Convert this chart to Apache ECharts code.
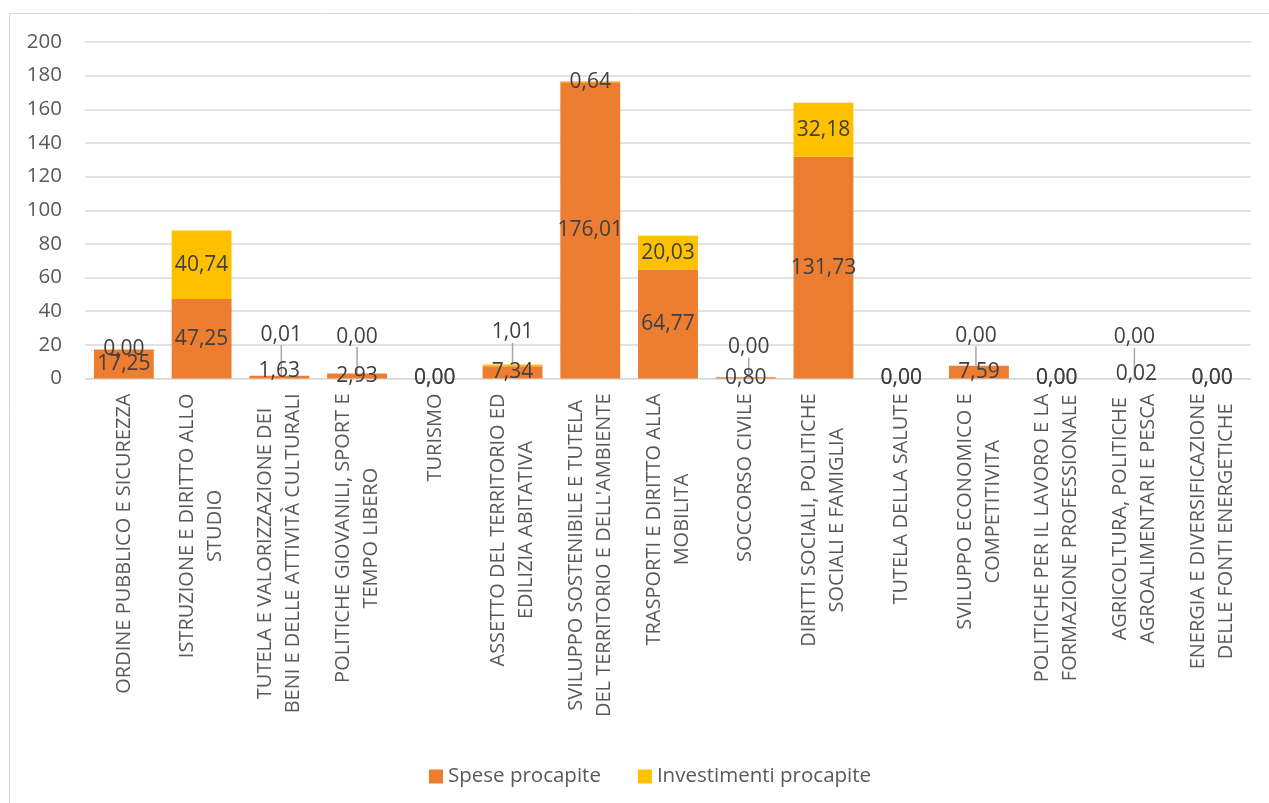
<!DOCTYPE html>
<html>
<head>
<meta charset="utf-8">
<script src="https://cdn.jsdelivr.net/npm/echarts@6/dist/echarts.min.js"></script>
<style>
  html, body { margin: 0; padding: 0; background: #ffffff; }
  #chart { width: 1269px; height: 803px; }
</style>
</head>
<body>
<div id="chart"></div>
<script>
// Missioni di bilancio (etichette già spezzate su due righe dove serve)
const categories = [
  'ORDINE PUBBLICO E SICUREZZA',
  'ISTRUZIONE E DIRITTO ALLO\nSTUDIO',
  'TUTELA E VALORIZZAZIONE DEI\nBENI E DELLE ATTIVITÀ CULTURALI',
  'POLITICHE GIOVANILI, SPORT E\nTEMPO LIBERO',
  'TURISMO',
  'ASSETTO DEL TERRITORIO ED\nEDILIZIA ABITATIVA',
  'SVILUPPO SOSTENIBILE E TUTELA\nDEL TERRITORIO E DELL\'AMBIENTE',
  'TRASPORTI E DIRITTO ALLA\nMOBILITA',
  'SOCCORSO CIVILE',
  'DIRITTI SOCIALI, POLITICHE\nSOCIALI E FAMIGLIA',
  'TUTELA DELLA SALUTE',
  'SVILUPPO ECONOMICO E\nCOMPETITIVITA',
  'POLITICHE PER IL LAVORO E LA\nFORMAZIONE PROFESSIONALE',
  'AGRICOLTURA, POLITICHE\nAGROALIMENTARI E PESCA',
  'ENERGIA E DIVERSIFICAZIONE\nDELLE FONTI ENERGETICHE'
];

// Valori pro capite (euro)
const spese = [17.25, 47.25, 1.63, 2.93, 0.00, 7.34, 176.01, 64.77, 0.80, 131.73, 0.00, 7.59, 0.00, 0.02, 0.00];
const investimenti = [0.00, 40.74, 0.01, 0.00, 0.00, 1.01, 0.64, 20.03, 0.00, 32.18, 0.00, 0.00, 0.00, 0.00, 0.00];

const yTicks = { min: 0, max: 200, step: 20 };

const seriesNames = ['Spese procapite', 'Investimenti procapite'];
const colors = ['#ED7D31', '#FFC000'];

const FONT = '"Open Sans", "DejaVu Sans", sans-serif';
const TEXT_GREY = '#595959';
const LABEL_DARK = '#404040';

// Spostamento (dx, dy) delle etichette che sui segmenti piccoli si sovrappongono
const spesaLabelShift = { 2: [0, -6], 13: [2, -4] };
const investLabelShift = { 2: [2, -41], 3: [0, -37], 5: [0, -33], 8: [3, -30], 11: [-3, -30], 13: [0, -41] };

const fmt = v => Number(v).toFixed(2).replace('.', ',');

function shiftLayout(map) {
  return function (params) {
    const s = map[params.dataIndex];
    return s ? { dx: s[0], dy: s[1] } : {};
  };
}

const chart = echarts.init(document.getElementById('chart'), null, { renderer: 'canvas' });

const option = {
  animation: false,
  backgroundColor: '#ffffff',
  textStyle: { fontFamily: FONT },
  graphic: [{
    type: 'rect',
    shape: { x: 9.5, y: 13.5, width: 1400, height: 900 },
    style: { fill: 'none', stroke: '#d9d9d9', lineWidth: 1 },
    silent: true,
    z: -1
  }],
  grid: { left: 85, right: 18, top: 42, bottom: 424.5, containLabel: false },
  legend: {
    data: seriesNames,
    top: 761,
    left: 424,
    itemWidth: 14,
    itemHeight: 14,
    itemGap: 37,
    icon: 'rect',
    textStyle: { fontFamily: FONT, fontSize: 20.5, color: TEXT_GREY, padding: [0, 0, 0, 0] }
  },
  xAxis: {
    type: 'category',
    data: categories,
    axisLine: { show: true, lineStyle: { color: '#d9d9d9', width: 1 } },
    axisTick: { show: false },
    axisLabel: {
      interval: 0,
      rotate: 90,
      margin: 15,
      color: TEXT_GREY,
      fontFamily: FONT,
      fontSize: 20,
      lineHeight: 28,
      formatter: function (value) {
        return value.split('\n').map(l => '{c|' + l + '}').join('\n');
      },
      rich: {
        c: { align: 'center', fontFamily: FONT, fontSize: 20, lineHeight: 28, color: TEXT_GREY }
      }
    }
  },
  yAxis: {
    type: 'value',
    min: yTicks.min,
    max: yTicks.max,
    interval: yTicks.step,
    axisLine: { show: false },
    axisTick: { show: false },
    splitLine: { lineStyle: { color: '#d9d9d9', width: 1.5 } },
    axisLabel: { color: TEXT_GREY, fontFamily: FONT, fontSize: 20.5, margin: 23 }
  },
  series: [
    {
      name: seriesNames[0],
      type: 'bar',
      stack: 'tot',
      data: spese,
      barWidth: '77%',
      itemStyle: { color: colors[0] },
      label: {
        show: true,
        position: 'inside',
        formatter: p => fmt(p.value),
        color: LABEL_DARK,
        fontFamily: FONT,
        fontSize: 21
      },
      labelLayout: shiftLayout(spesaLabelShift)
    },
    {
      name: seriesNames[1],
      type: 'bar',
      stack: 'tot',
      data: investimenti,
      barWidth: '77%',
      itemStyle: { color: colors[1] },
      label: {
        show: true,
        position: 'inside',
        formatter: p => fmt(p.value),
        color: LABEL_DARK,
        fontFamily: FONT,
        fontSize: 21
      },
      labelLine: { show: true, lineStyle: { color: '#a6a6a6', width: 1.5 } },
      labelLayout: shiftLayout(investLabelShift)
    }
  ]
};

chart.setOption(option);
</script>
</body>
</html>
